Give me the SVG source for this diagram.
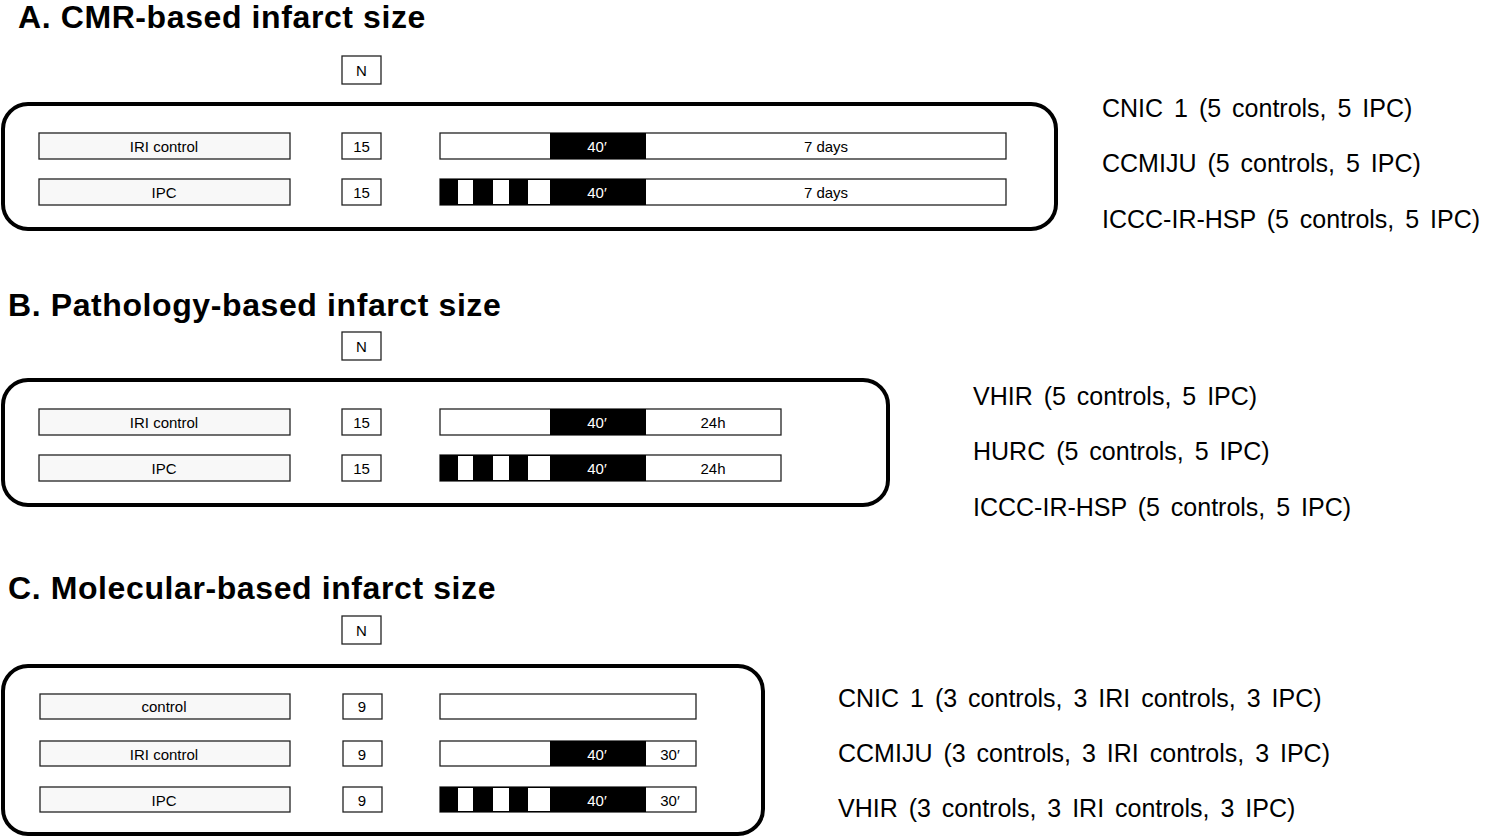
<svg xmlns="http://www.w3.org/2000/svg" width="1489" height="840" viewBox="0 0 1489 840">
<style>
text{font-family:"Liberation Sans",Arial,sans-serif}
.t{font-size:32px;font-weight:bold;letter-spacing:0.6px}
.s{font-size:15px;text-anchor:middle;dominant-baseline:central}
.w{fill:#fff}
.r{font-size:25px;dominant-baseline:central;word-spacing:4px}
.bx{fill:#f8f8f8;stroke:#222;stroke-width:1.3}
.nb{fill:#fff;stroke:#222;stroke-width:1.3}
.ob{fill:none;stroke:#000;stroke-width:4}
.k{fill:#000}
</style>
<rect width="1489" height="840" fill="#fff"/>
<text class="t" x="18" y="28">A. CMR-based infarct size</text>
<text class="t" x="8" y="316">B. Pathology-based infarct size</text>
<text class="t" x="8" y="599">C. Molecular-based infarct size</text>
<g id="A">
<rect class="nb" x="342" y="56" width="39" height="28"/><text class="s" x="361.5" y="70">N</text>
<rect class="ob" x="3" y="104" width="1053" height="125" rx="25"/>
<rect class="bx" x="39" y="133" width="251" height="26"/><text class="s" x="164" y="146">IRI control</text>
<rect class="nb" x="342" y="133" width="39" height="26"/><text class="s" x="361.5" y="146">15</text>
<rect class="nb" x="440" y="133" width="566" height="26"/><rect class="k" x="550" y="133" width="96" height="26"/>
<text class="s w" x="597" y="146">40′</text><text class="s" x="826" y="146">7 days</text>
<rect class="bx" x="39" y="179" width="251" height="26"/><text class="s" x="164" y="192">IPC</text>
<rect class="nb" x="342" y="179" width="39" height="26"/><text class="s" x="361.5" y="192">15</text>
<rect class="nb" x="440" y="179" width="566" height="26"/><rect class="k" x="440" y="179" width="206" height="26"/>
<rect class="w" x="458" y="180" width="15" height="24"/><rect class="w" x="493" y="180" width="16" height="24"/><rect class="w" x="528" y="180" width="22" height="24"/>
<text class="s w" x="597" y="192">40′</text><text class="s" x="826" y="192">7 days</text>
<text class="r" x="1102" y="108">CNIC 1 (5 controls, 5 IPC)</text>
<text class="r" x="1102" y="163">CCMIJU (5 controls, 5 IPC)</text>
<text class="r" x="1102" y="219">ICCC-IR-HSP (5 controls, 5 IPC)</text>
</g>
<g id="B">
<rect class="nb" x="342" y="332" width="39" height="28"/><text class="s" x="361.5" y="346">N</text>
<rect class="ob" x="3" y="380" width="885" height="125" rx="25"/>
<rect class="bx" x="39" y="409" width="251" height="26"/><text class="s" x="164" y="422">IRI control</text>
<rect class="nb" x="342" y="409" width="39" height="26"/><text class="s" x="361.5" y="422">15</text>
<rect class="nb" x="440" y="409" width="341" height="26"/><rect class="k" x="550" y="409" width="96" height="26"/>
<text class="s w" x="597" y="422">40′</text><text class="s" x="713" y="422">24h</text>
<rect class="bx" x="39" y="455" width="251" height="26"/><text class="s" x="164" y="468">IPC</text>
<rect class="nb" x="342" y="455" width="39" height="26"/><text class="s" x="361.5" y="468">15</text>
<rect class="nb" x="440" y="455" width="341" height="26"/><rect class="k" x="440" y="455" width="206" height="26"/>
<rect class="w" x="458" y="456" width="15" height="24"/><rect class="w" x="493" y="456" width="16" height="24"/><rect class="w" x="528" y="456" width="22" height="24"/>
<text class="s w" x="597" y="468">40′</text><text class="s" x="713" y="468">24h</text>
<text class="r" x="973" y="396">VHIR (5 controls, 5 IPC)</text>
<text class="r" x="973" y="451">HURC (5 controls, 5 IPC)</text>
<text class="r" x="973" y="507">ICCC-IR-HSP (5 controls, 5 IPC)</text>
</g>
<g id="C">
<rect class="nb" x="342" y="616" width="39" height="28"/><text class="s" x="361.5" y="630">N</text>
<rect class="ob" x="3" y="666" width="760" height="168" rx="25"/>
<rect class="bx" x="40" y="694" width="250" height="25"/><text class="s" x="164" y="706">control</text>
<rect class="nb" x="343" y="694" width="39" height="25"/><text class="s" x="362" y="706">9</text>
<rect class="nb" x="440" y="694" width="256" height="25"/>
<rect class="bx" x="40" y="741" width="250" height="25"/><text class="s" x="164" y="754">IRI control</text>
<rect class="nb" x="343" y="741" width="39" height="25"/><text class="s" x="362" y="754">9</text>
<rect class="nb" x="440" y="741" width="256" height="25"/><rect class="k" x="550" y="741" width="96" height="25"/>
<text class="s w" x="597" y="754">40′</text><text class="s" x="670" y="754">30′</text>
<rect class="bx" x="40" y="787" width="250" height="25"/><text class="s" x="164" y="800">IPC</text>
<rect class="nb" x="343" y="787" width="39" height="25"/><text class="s" x="362" y="800">9</text>
<rect class="nb" x="440" y="787" width="256" height="25"/><rect class="k" x="440" y="787" width="206" height="25"/>
<rect class="w" x="458" y="788" width="15" height="23"/><rect class="w" x="493" y="788" width="16" height="23"/><rect class="w" x="528" y="788" width="22" height="23"/>
<text class="s w" x="597" y="800">40′</text><text class="s" x="670" y="800">30′</text>
<text class="r" x="838" y="698">CNIC 1 (3 controls, 3 IRI controls, 3 IPC)</text>
<text class="r" x="838" y="753">CCMIJU (3 controls, 3 IRI controls, 3 IPC)</text>
<text class="r" x="838" y="808">VHIR (3 controls, 3 IRI controls, 3 IPC)</text>
</g>
<g id="connectors"/>
</svg>
